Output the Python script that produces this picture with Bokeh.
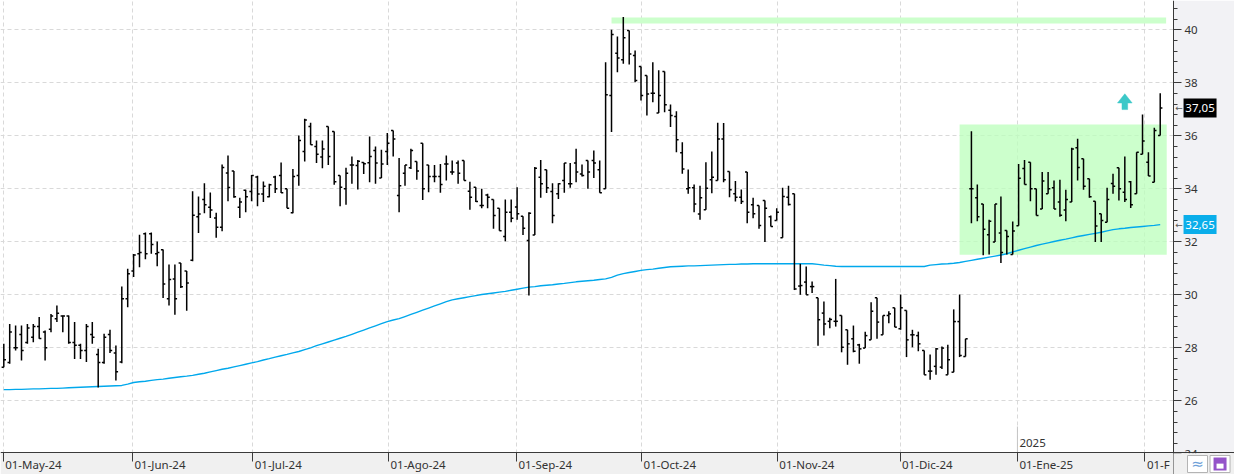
import pandas as pd
from bokeh.plotting import figure
from bokeh.models import (ColumnDataSource, Range1d, SingleIntervalTicker, FixedTicker,
                          CustomJSTickFormatter)
from bokeh.core.properties import value
from bokeh.embed import file_html
from bokeh.resources import INLINE

# ---------------- data ----------------
OPEN = [27.27, 27.45, 28.00, 28.50, 28.20, 28.40, 28.80, 28.60, 28.70, 29.10,
        29.20, 29.20, 28.20, 28.10, 27.90, 28.50, 27.75, 27.45, 28.50, 27.80,
        27.46, 29.85, 30.90, 31.55, 32.30, 32.30, 31.55, 31.70, 29.85, 30.60,
        31.20, 30.90, 31.30, 32.95, 33.60, 33.30, 32.90, 32.55, 34.60, 34.67,
        33.30, 33.95, 33.90, 34.45, 33.80, 33.70, 34.45, 34.50, 34.00, 33.10,
        34.50, 35.41, 36.35, 35.60, 35.20, 36.35, 36.16, 34.50, 34.00, 34.90,
        34.88, 34.99, 34.98, 35.45, 34.41, 35.41, 36.20, 33.75, 34.59, 34.79,
        35.03, 35.72, 34.90, 34.46, 34.46, 34.94, 34.63, 34.97, 35.07, 33.91,
        34.06, 33.37, 33.77, 33.60, 33.27, 32.20, 33.12, 33.31, 32.96, 32.05,
        32.26, 34.44, 34.72, 33.90, 33.81, 34.31, 34.19, 34.97, 34.56, 35.07,
        35.07, 34.72, 34.00, 37.52, 39.12, 38.87, 39.97, 39.03, 38.62, 38.28,
        37.61, 36.86, 38.43, 36.96, 36.73, 35.36, 34.00, 34.04, 33.05, 33.21,
        34.34, 34.31, 35.88, 34.65, 33.81, 33.68, 34.63, 33.40, 33.37, 33.56,
        32.95, 32.80, 32.15, 33.68, 33.81, 30.33, 30.48, 30.31, 29.89, 29.31,
        29.00, 29.00, 29.22, 28.68, 28.34, 28.11, 27.99, 28.30, 29.89, 28.49,
        29.22, 29.51, 28.72, 29.41, 28.49, 28.46, 27.90, 27.12, 27.30, 27.27,
        26.98, 27.08, 28.99, 27.67, 34.00, 33.66, 33.43, 32.27, 31.99, 32.33,
        32.43, 31.52, 32.61, 34.77, 35.00, 34.00, 33.24, 33.81, 34.04, 33.50,
        33.20, 33.50, 35.55, 35.13, 34.38, 33.53, 33.06, 32.74, 34.20, 34.79,
        33.87, 34.27, 33.81, 35.30, 35.00, 34.25, 36.01]

HIGH = [28.15, 28.90, 28.84, 28.84, 28.90, 28.90, 29.16, 28.65, 29.28, 29.60,
        29.22, 29.22, 28.97, 28.15, 28.90, 28.97, 27.96, 28.53, 28.68, 28.09,
        30.31, 30.98, 31.54, 32.27, 32.35, 32.35, 32.01, 31.71, 31.14, 31.14,
        31.20, 30.90, 33.91, 33.71, 34.21, 33.86, 33.10, 34.92, 35.26, 34.67,
        33.66, 33.96, 34.52, 34.49, 34.28, 34.19, 34.49, 34.99, 34.00, 34.75,
        36.01, 36.64, 36.49, 35.82, 35.82, 36.35, 36.16, 34.50, 34.79, 35.22,
        35.09, 35.00, 35.97, 35.60, 35.47, 36.11, 36.20, 35.16, 34.90, 35.51,
        35.03, 35.72, 34.90, 34.90, 34.94, 35.26, 35.07, 35.07, 35.07, 34.27,
        34.06, 34.00, 33.81, 33.60, 33.27, 33.60, 33.60, 34.06, 32.96, 33.12,
        34.82, 35.09, 34.72, 34.21, 34.21, 34.97, 34.97, 35.51, 34.92, 35.07,
        35.45, 35.07, 38.78, 40.00, 39.75, 40.48, 39.97, 39.22, 38.62, 38.28,
        38.78, 38.47, 38.43, 37.18, 36.93, 35.76, 34.73, 34.16, 34.12, 35.00,
        35.41, 36.49, 36.48, 34.65, 34.29, 33.97, 34.63, 33.66, 33.37, 33.56,
        32.99, 33.27, 34.04, 34.12, 33.81, 31.17, 31.07, 30.50, 29.89, 29.75,
        29.13, 30.60, 29.22, 28.68, 28.84, 28.15, 28.61, 29.72, 29.89, 29.22,
        29.38, 29.51, 30.01, 29.41, 28.68, 28.61, 27.90, 27.75, 27.99, 28.05,
        28.12, 29.45, 30.01, 28.34, 36.17, 34.16, 33.43, 32.83, 33.43, 33.71,
        32.43, 32.77, 34.94, 35.09, 35.00, 34.00, 34.63, 34.63, 34.31, 34.34,
        33.96, 35.55, 35.89, 35.13, 34.38, 33.53, 33.06, 34.04, 34.57, 34.79,
        35.22, 34.29, 35.38, 36.80, 35.38, 36.30, 37.61]

LOW = [27.27, 27.40, 27.90, 27.52, 28.15, 28.21, 28.34, 27.52, 28.59, 28.97,
       28.59, 28.15, 27.58, 27.58, 27.46, 28.15, 26.50, 27.40, 27.80, 26.77,
       27.42, 29.53, 30.67, 31.04, 31.34, 31.55, 31.08, 29.88, 29.60, 29.25,
       30.26, 29.40, 31.27, 32.33, 33.08, 32.90, 32.15, 32.40, 33.53, 33.66,
       32.90, 33.12, 33.53, 33.34, 33.50, 33.68, 33.84, 33.84, 33.27, 33.08,
       34.12, 35.03, 35.66, 34.97, 34.78, 34.90, 34.15, 33.34, 33.40, 34.19,
       33.97, 34.56, 34.25, 34.19, 34.41, 34.90, 35.22, 33.12, 34.12, 34.75,
       34.34, 33.58, 33.87, 34.25, 33.85, 34.31, 34.53, 34.19, 34.31, 33.21,
       33.50, 33.27, 33.27, 32.49, 32.42, 32.02, 32.74, 32.83, 32.26, 29.97,
       32.26, 33.66, 33.84, 32.70, 33.62, 33.85, 34.04, 34.25, 34.46, 34.00,
       34.41, 33.85, 34.00, 36.14, 38.40, 38.72, 38.69, 38.02, 37.33, 36.77,
       37.27, 36.86, 36.89, 36.33, 35.38, 34.57, 33.81, 33.12, 32.83, 33.21,
       33.83, 34.31, 34.25, 33.68, 33.52, 33.43, 32.70, 32.89, 32.49, 31.99,
       32.58, 32.80, 32.15, 33.37, 30.18, 30.00, 30.00, 30.07, 28.08, 28.46,
       28.74, 28.80, 27.83, 27.36, 27.83, 27.40, 27.99, 28.30, 28.34, 28.49,
       28.93, 28.78, 28.68, 27.65, 28.02, 27.87, 26.98, 26.79, 26.98, 27.20,
       26.98, 27.08, 27.65, 27.67, 32.70, 32.78, 31.49, 31.52, 31.99, 31.20,
       31.52, 31.52, 32.61, 34.16, 33.53, 32.99, 33.24, 33.81, 33.24, 32.95,
       32.78, 33.50, 34.31, 33.96, 33.66, 31.99, 31.99, 32.74, 33.81, 33.56,
       33.50, 33.28, 33.81, 35.30, 34.48, 34.25, 36.01]

CLOSE = [27.55, 28.60, 28.00, 27.90, 28.75, 28.80, 28.35, 28.00, 29.20, 29.30,
         29.20, 28.20, 28.10, 27.90, 28.80, 28.40, 27.45, 28.40, 27.90, 27.10,
         29.85, 30.79, 31.50, 31.60, 31.55, 31.90, 31.60, 30.41, 30.58, 29.85,
         30.30, 30.45, 33.00, 33.05, 33.40, 33.20, 32.55, 34.80, 34.05, 33.70,
         33.50, 33.70, 34.50, 33.80, 34.10, 34.15, 34.00, 33.85, 33.27, 34.46,
         35.82, 36.60, 35.66, 35.30, 35.50, 35.22, 34.27, 34.06, 34.59, 34.90,
         35.04, 34.95, 35.22, 34.97, 34.94, 35.72, 35.88, 34.12, 34.90, 35.45,
         34.67, 34.00, 34.46, 34.46, 34.16, 34.94, 34.63, 34.59, 34.31, 33.68,
         33.52, 33.37, 33.68, 32.99, 32.42, 33.12, 32.89, 33.06, 32.51, 33.08,
         34.78, 34.19, 34.04, 32.99, 34.19, 34.97, 34.19, 34.63, 34.50, 34.63,
         34.97, 33.85, 37.55, 39.82, 38.94, 39.70, 39.09, 38.09, 37.52, 37.58,
         37.61, 37.52, 37.17, 36.77, 35.85, 34.75, 34.04, 33.43, 33.66, 34.02,
         34.44, 35.88, 34.34, 33.96, 33.68, 33.52, 33.12, 33.06, 32.62, 33.27,
         32.58, 33.12, 33.71, 33.41, 30.22, 30.35, 30.00, 30.31, 29.06, 28.90,
         29.07, 29.00, 28.02, 28.15, 27.87, 27.96, 28.46, 29.38, 28.97, 29.22,
         29.28, 28.78, 29.51, 28.30, 28.49, 28.15, 26.98, 27.12, 27.96, 27.99,
         27.55, 28.99, 27.71, 28.34, 34.00, 32.95, 32.47, 32.78, 33.43, 31.60,
         32.20, 32.41, 34.40, 34.16, 34.00, 32.99, 34.29, 34.00, 33.24, 33.00,
         33.60, 35.50, 34.80, 34.10, 33.70, 32.60, 32.80, 33.60, 34.10, 34.00,
         33.60, 33.40, 35.38, 35.80, 34.48, 36.20, 37.05]

MA200 = [26.42, 26.42, 26.43, 26.43, 26.44, 26.45, 26.45, 26.46, 26.47, 26.47,
         26.48, 26.49, 26.50, 26.51, 26.52, 26.53, 26.54, 26.55, 26.56, 26.57,
         26.58, 26.63, 26.69, 26.72, 26.74, 26.77, 26.80, 26.82, 26.85, 26.88,
         26.91, 26.93, 26.96, 27.00, 27.04, 27.09, 27.14, 27.19, 27.23, 27.28,
         27.33, 27.38, 27.43, 27.48, 27.54, 27.59, 27.65, 27.70, 27.75, 27.81,
         27.86, 27.93, 28.00, 28.08, 28.15, 28.22, 28.29, 28.36, 28.43, 28.51,
         28.59, 28.67, 28.75, 28.83, 28.91, 28.99, 29.05, 29.10, 29.18, 29.26,
         29.34, 29.42, 29.50, 29.58, 29.66, 29.74, 29.81, 29.85, 29.89, 29.93,
         29.97, 30.01, 30.04, 30.07, 30.10, 30.13, 30.17, 30.21, 30.25, 30.29,
         30.31, 30.34, 30.36, 30.38, 30.41, 30.43, 30.46, 30.49, 30.51, 30.53,
         30.55, 30.58, 30.60, 30.66, 30.74, 30.80, 30.84, 30.88, 30.92, 30.95,
         30.97, 31.00, 31.03, 31.06, 31.07, 31.08, 31.09, 31.09, 31.10, 31.11,
         31.12, 31.13, 31.14, 31.15, 31.15, 31.16, 31.16, 31.17, 31.17, 31.17,
         31.17, 31.17, 31.17, 31.17, 31.17, 31.17, 31.17, 31.17, 31.15, 31.12,
         31.10, 31.08, 31.07, 31.07, 31.07, 31.07, 31.07, 31.07, 31.07, 31.07,
         31.07, 31.07, 31.07, 31.07, 31.07, 31.07, 31.07, 31.12, 31.14, 31.16,
         31.17, 31.19, 31.22, 31.26, 31.30, 31.34, 31.38, 31.42, 31.46, 31.50,
         31.55, 31.62, 31.68, 31.74, 31.80, 31.86, 31.91, 31.96, 32.01, 32.06,
         32.10, 32.15, 32.20, 32.24, 32.28, 32.32, 32.36, 32.41, 32.46, 32.49,
         32.51, 32.54, 32.56, 32.58, 32.60, 32.62, 32.65]

MONTH_TICKS = [-0.1, 21.8, 42.2, 65.2, 86.9, 108.1, 131.1, 151.9, 171.8, 193.4]
MONTH_LABELS = ["01-May-24", "01-Jun-24", "01-Jul-24", "01-Ago-24", "01-Sep-24",
                "01-Oct-24", "01-Nov-24", "01-Dic-24", "01-Ene-25", "01-F"]
YEAR_TICK = 171.8
YEAR_LABEL = "2025"

LAST_PRICE = 37.05
LAST_MA = 32.65

# annotations drawn on the chart
RESIST_LEVEL, RESIST_START, RESIST_END = 40.35, 103.0, 197.0
BOX_LEFT, BOX_RIGHT, BOX_BOTTOM, BOX_TOP = 162.0, 197.1, 31.51, 36.43
ARROW_X, ARROW_TIP, ARROW_BASE, ARROW_BOTTOM = 190.0, 37.585, 37.24, 36.99

N = len(CLOSE)
assert len(OPEN) == len(HIGH) == len(LOW) == len(MA200) == N

# ---------------- layout (frame = whole canvas, axes at fixed positions) ----------------
X_START, X_END = -0.559, 208.59      # 5.9 px per bar
Y_MIN, Y_MAX = 23.219, 41.106        # 26.5 px per unit
AXIS_X = 198.25                      # price axis position (bar units)
AXIS_Y = 24.05                       # date axis position (price units)
TAG_X = 202.75                       # centre of the price tags
ARROWMARK_X = 199.2
MONTH_LABEL_Y = 23.60
YEAR_LABEL_Y = 24.39
YEAR_LINE_TOP = 25.03
ICON_Y = 23.615
TICK = 0.37
FONT = "Noto Sans"
PANEL = "#f2f2f5"

df = pd.DataFrame(dict(i=list(range(N)), o=OPEN, h=HIGH, l=LOW, c=CLOSE, ma=MA200))
df["xl"] = df["i"] - TICK
df["xr"] = df["i"] + TICK
src = ColumnDataSource(df)

p = figure(width=1234, height=474, output_backend="svg", toolbar_location=None,
           x_range=Range1d(X_START, X_END), y_range=Range1d(Y_MIN, Y_MAX),
           y_axis_location="right", min_border=0,
           min_border_left=0, min_border_right=0, min_border_top=0, min_border_bottom=0,
           background_fill_color="white", border_fill_color=PANEL,
           outline_line_color=None)

# grids
for g in (p.xgrid, p.ygrid):
    g.grid_line_color = "#d9d9d9"
    g.grid_line_dash = "4 3"
    g.grid_line_width = 1

# price axis (right side of the chart)
ya = p.yaxis[0]
ya.fixed_location = AXIS_X
ya.ticker = SingleIntervalTicker(interval=2, num_minor_ticks=5)
ya.axis_line_color = "#3a3a3a"
ya.major_tick_line_color = "#3a3a3a"
ya.minor_tick_line_color = "#3a3a3a"
ya.major_tick_out = 8
ya.major_tick_in = 0
ya.minor_tick_out = 4
ya.minor_tick_in = 0
ya.major_label_standoff = 3
ya.major_label_text_font = FONT
ya.major_label_text_font_size = "11.5px"
ya.major_label_text_color = "#333333"

# date axis: line + ticks (labels drawn left-aligned below)
xa = p.xaxis[0]
xa.fixed_location = AXIS_Y
xa.ticker = FixedTicker(ticks=MONTH_TICKS, minor_ticks=[])
xa.formatter = CustomJSTickFormatter(code="return ''")
xa.axis_line_color = "#3a3a3a"
xa.major_tick_line_color = "#3a3a3a"
xa.major_tick_out = 9
xa.major_tick_in = 0

# side panels
p.quad(left=[AXIS_X], right=[X_END], bottom=[AXIS_Y], top=[Y_MAX],
       fill_color=PANEL, line_color=None)
p.quad(left=[X_START], right=[AXIS_X], bottom=[Y_MIN], top=[AXIS_Y],
       fill_color="#f0f0f0", line_color=None)
p.quad(left=[AXIS_X], right=[X_END], bottom=[Y_MIN], top=[AXIS_Y - 0.03],
       fill_color="#f0f0f0", line_color=None, level="overlay")

# green box and resistance line
p.quad(left=[BOX_LEFT], right=[BOX_RIGHT], bottom=[BOX_BOTTOM], top=[BOX_TOP],
       fill_color="#bbffbb", fill_alpha=0.75, line_color=None)
p.segment(x0=[RESIST_START], x1=[RESIST_END], y0=[RESIST_LEVEL], y1=[RESIST_LEVEL],
          line_color="#ccffcc", line_width=6)

# year marker
p.segment(x0=[YEAR_TICK], x1=[YEAR_TICK], y0=[AXIS_Y], y1=[YEAR_LINE_TOP],
          line_color="#c4c4c4", line_width=1)
p.text(x=[YEAR_TICK], y=[YEAR_LABEL_Y], text=[YEAR_LABEL], x_offset=2,
       text_font=value(FONT), text_font_size=value("11.5px"), text_color="#333333",
       text_baseline="middle", text_align="left")

# moving average
p.line("i", "ma", source=src, line_color="#00a8ec", line_width=1.4)

# OHLC bars
p.segment(x0="i", x1="i", y0="l", y1="h", source=src, line_color="black", line_width=1.5)
p.segment(x0="xl", x1="i", y0="o", y1="o", source=src, line_color="black", line_width=1.5)
p.segment(x0="i", x1="xr", y0="c", y1="c", source=src, line_color="black", line_width=1.5)

# cyan arrow
hw, sw = 1.24, 0.48
p.patch(x=[ARROW_X - hw, ARROW_X, ARROW_X + hw, ARROW_X + sw, ARROW_X + sw, ARROW_X - sw, ARROW_X - sw],
        y=[ARROW_BASE, ARROW_TIP, ARROW_BASE, ARROW_BASE, ARROW_BOTTOM, ARROW_BOTTOM, ARROW_BASE],
        fill_color="#3cc8c8", line_color="#3cc8c8", line_width=0.5)

# month labels (left aligned, right of each tick)
p.text(x=MONTH_TICKS, y=[MONTH_LABEL_Y] * len(MONTH_TICKS), text=MONTH_LABELS, x_offset=2,
       text_font=value(FONT), text_font_size=value("11.5px"), text_color="#333333",
       text_baseline="middle", text_align="left")

# price tags on the axis
tags = ColumnDataSource(dict(
    y=[LAST_PRICE, LAST_MA],
    text=[f"{v:.2f}".replace(".", ",") for v in (LAST_PRICE, LAST_MA)],
    bg=["black", "#0aaeea"]))
p.rect(x=TAG_X, y="y", width=33, height=19, width_units="screen", height_units="screen",
       source=tags, fill_color="bg", line_color=None)
p.text(x=TAG_X, y="y", text="text", source=tags, text_color="white",
       text_font=value(FONT), text_font_size=value("11.5px"),
       text_baseline="middle", text_align="center")
p.text(x=ARROWMARK_X, y="y", text=value("←"), source=tags, text_color="#555555",
       text_font=value("DejaVu Sans"), text_font_size=value("9px"),
       text_baseline="middle", text_align="center")

# small tool buttons at the bottom right
p.rect(x=[202.32, 206.14], y=[ICON_Y, ICON_Y], width=20, height=17,
       width_units="screen", height_units="screen",
       fill_color="white", line_color="#b4b4b4", level="overlay")
p.text(x=[202.32], y=[ICON_Y], text=["≈"], text_color="#6f9fd8",
       text_font=value("DejaVu Sans"), text_font_size=value("15px"),
       text_baseline="middle", text_align="center", level="overlay")
p.rect(x=[206.14], y=[ICON_Y], width=13, height=13, width_units="screen",
       height_units="screen", fill_color="#9453c9", line_color=None, level="overlay")
p.rect(x=[206.14], y=[ICON_Y - 0.08], width=7, height=5, width_units="screen",
       height_units="screen", fill_color="white", line_color=None, level="overlay")

open("out.html", "w").write(file_html(p, INLINE))
